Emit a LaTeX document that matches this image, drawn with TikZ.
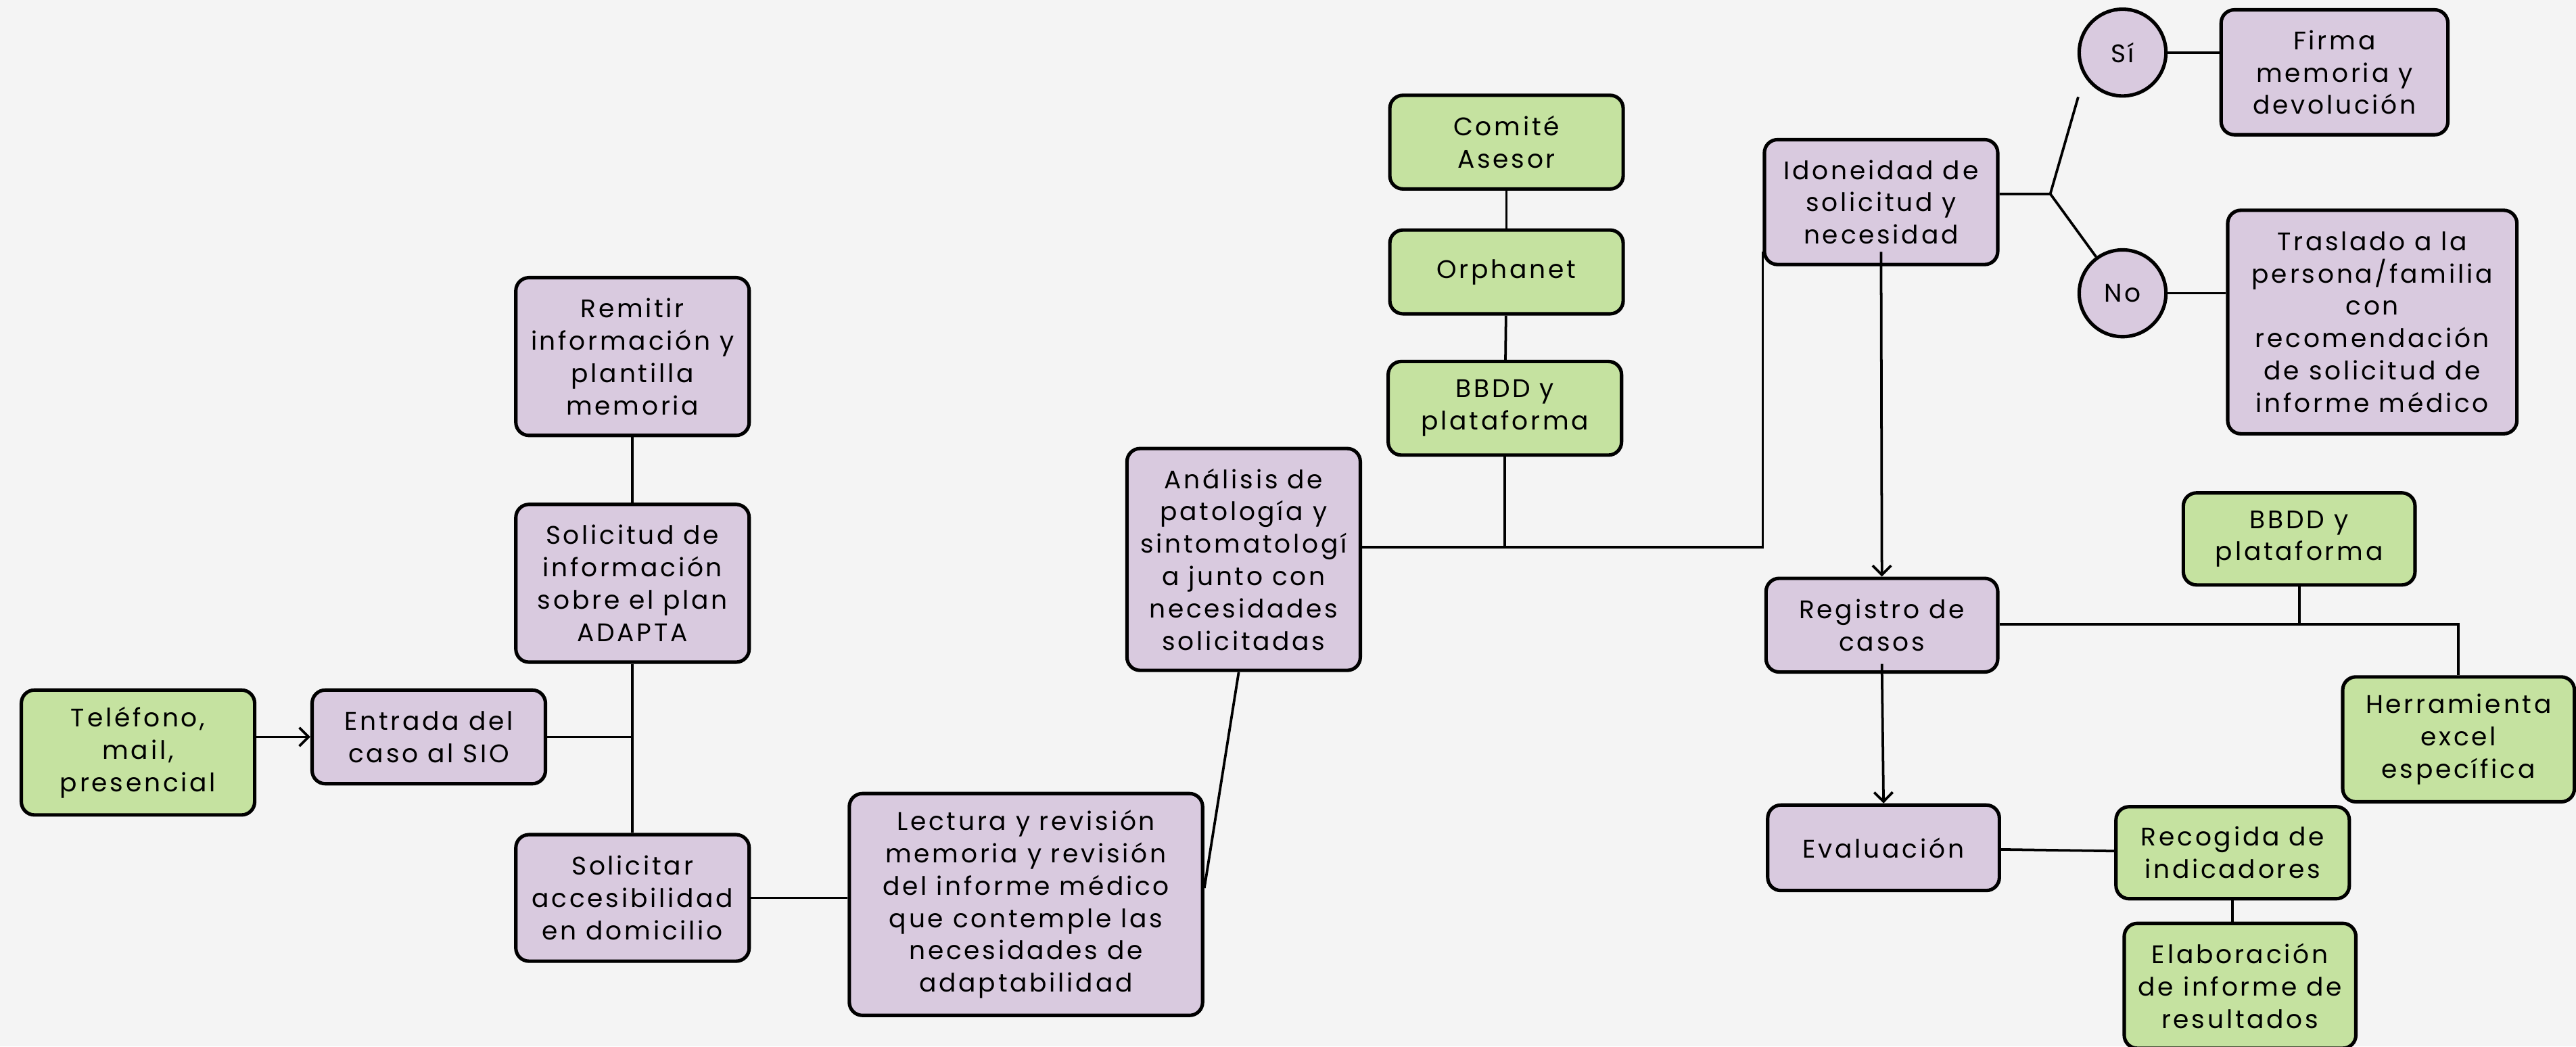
\documentclass[tikz,border=0pt]{standalone}
\usepackage{fontspec}
\setmainfont{Poppins}[LetterSpace=10]
\usetikzlibrary{arrows.meta}
\definecolor{lila}{HTML}{D9CADF}
\definecolor{verde}{HTML}{C5E2A0}
\definecolor{fondo}{HTML}{F4F4F4}
\begin{document}
\begin{tikzpicture}[x=0.025cm, y=-0.025cm, line width=1.1pt,
  box node/.style={rectangle,rounded corners=0.2cm,draw,line width=1.5pt,align=center,inner sep=2pt},
  lila node/.style={box node,fill=lila},
  verde node/.style={box node,fill=verde},
  choice node/.style={circle,draw,fill=lila,line width=1.5pt,minimum size=1.32cm,inner sep=0pt},
  flecha/.style={-{Straight Barb[length=4pt,width=8pt]}}]
\useasboundingbox (0,0) rectangle (1568,637);
\fill[fondo] (0,0) rectangle (1568,637);
\begin{scope}[every node/.style={font=\fontsize{11}{14}\selectfont}]
% entrada
\node [verde node,minimum width=3.55cm,minimum height=1.9cm](tel) at (84,458) {Teléfono,\\mail,\\presencial};
\node [lila node,minimum width=3.55cm,minimum height=1.425cm](entrada) at (261,448.5) {Entrada del\\caso al SIO};
\node [lila node,minimum width=3.55cm,minimum height=2.4cm](remitir) at (385,217) {Remitir\\información y\\plantilla\\memoria};
\node [lila node,minimum width=3.55cm,minimum height=2.4cm](solicitud) at (385,355) {Solicitud de\\información\\sobre el plan\\ADAPTA};
\node [lila node,minimum width=3.55cm,minimum height=1.925cm](solicitar) at (385,546.5) {Solicitar\\accesibilidad\\en domicilio};
\node [lila node,minimum width=5.375cm,minimum height=3.375cm](lectura) at (624.5,550.5) {Lectura y revisión\\memoria y revisión\\del informe médico\\que contemple las\\necesidades de\\adaptabilidad};
% analisis
\node [lila node,minimum width=3.55cm,minimum height=3.375cm](analisis) at (757,340.5) {Análisis de\\patología y\\sintomatologí\\a junto con\\necesidades\\solicitadas};
\node [verde node,minimum width=3.55cm,minimum height=1.425cm](comite) at (917,86.5) {Comité\\Asesor};
\node [verde node,minimum width=3.55cm,minimum height=1.275cm](orphanet) at (917,165.5) {Orphanet};
\node [verde node,minimum width=3.55cm,minimum height=1.425cm](bbdd) at (916,248.5) {BBDD y\\plataforma};
% decision
\node [lila node,minimum width=3.55cm,minimum height=1.9cm](idoneidad) at (1145,123) {Idoneidad de\\solicitud y\\necesidad};
\node [choice node](si) at (1292,32) {Sí};
\node [choice node](no) at (1292,178.5) {No};
\node [lila node,minimum width=3.45cm,minimum height=1.9cm](firma) at (1421,44) {Firma\\memoria y\\devolución};
\node [lila node,minimum width=4.4cm,minimum height=3.4cm](traslado) at (1444,196) {Traslado a la\\persona/familia\\con\\recomendación\\de solicitud de\\informe médico};
% registro
\node [lila node,minimum width=3.525cm,minimum height=1.425cm](registro) at (1145.5,380.5) {Registro de\\casos};
\node [verde node,minimum width=3.525cm,minimum height=1.4cm](bbdd2) at (1399.5,328) {BBDD y\\plataforma};
\node [verde node,minimum width=3.525cm,minimum height=1.9cm](herramienta) at (1496.5,450) {Herramienta\\excel\\específica};
\node [lila node,minimum width=3.525cm,minimum height=1.3cm](evaluacion) at (1146.5,516) {Evaluación};
\node [verde node,minimum width=3.55cm,minimum height=1.4cm](recogida) at (1359,519) {Recogida de\\indicadores};
\node [verde node,minimum width=3.525cm,minimum height=1.9cm](elaboracion) at (1363.5,600) {Elaboración\\de informe de\\resultados};
\end{scope}
\coordinate (hubA) at (1073,333);
\coordinate (fork) at (1248,118);
\coordinate (siend) at (1265,59);
\coordinate (hubB) at (1497,380);
\draw[flecha] (tel.east |- entrada.west) -- (entrada.west);
\path (remitir) edge (solicitud)
      (solicitud) edge (solicitar)
      (comite) edge (orphanet)
      (orphanet) edge (bbdd)
      (evaluacion) edge (recogida);
\draw (entrada.east) -- (entrada.east -| solicitud.south);
\draw (solicitar.east) -- (solicitar.east -| lectura.west);
\draw ([yshift=0.25cm]lectura.east) -- ([xshift=-0.075cm]analisis.south);
\draw (analisis.east |- hubA) -| ([yshift=0.22cm]idoneidad.south west);
\draw (bbdd.south) -- (bbdd.south |- hubA);
\draw (idoneidad.east |- fork) -- (fork) -- (siend);
\draw (fork) -- (no);
\draw (si.east) -- (si.east -| firma.west);
\draw (no.east) -- (no.east -| traslado.west);
\draw[flecha] ([yshift=0.22cm]idoneidad.south) -- (registro.north);
\draw (registro.east |- hubB) -| (herramienta.north);
\draw (bbdd2.south) -- (bbdd2.south |- hubB);
\draw[flecha] ([yshift=0.15cm]registro.south) -- (evaluacion.north);
\draw (recogida.south) -- (recogida.south |- elaboracion.north);
\end{tikzpicture}
\end{document}
